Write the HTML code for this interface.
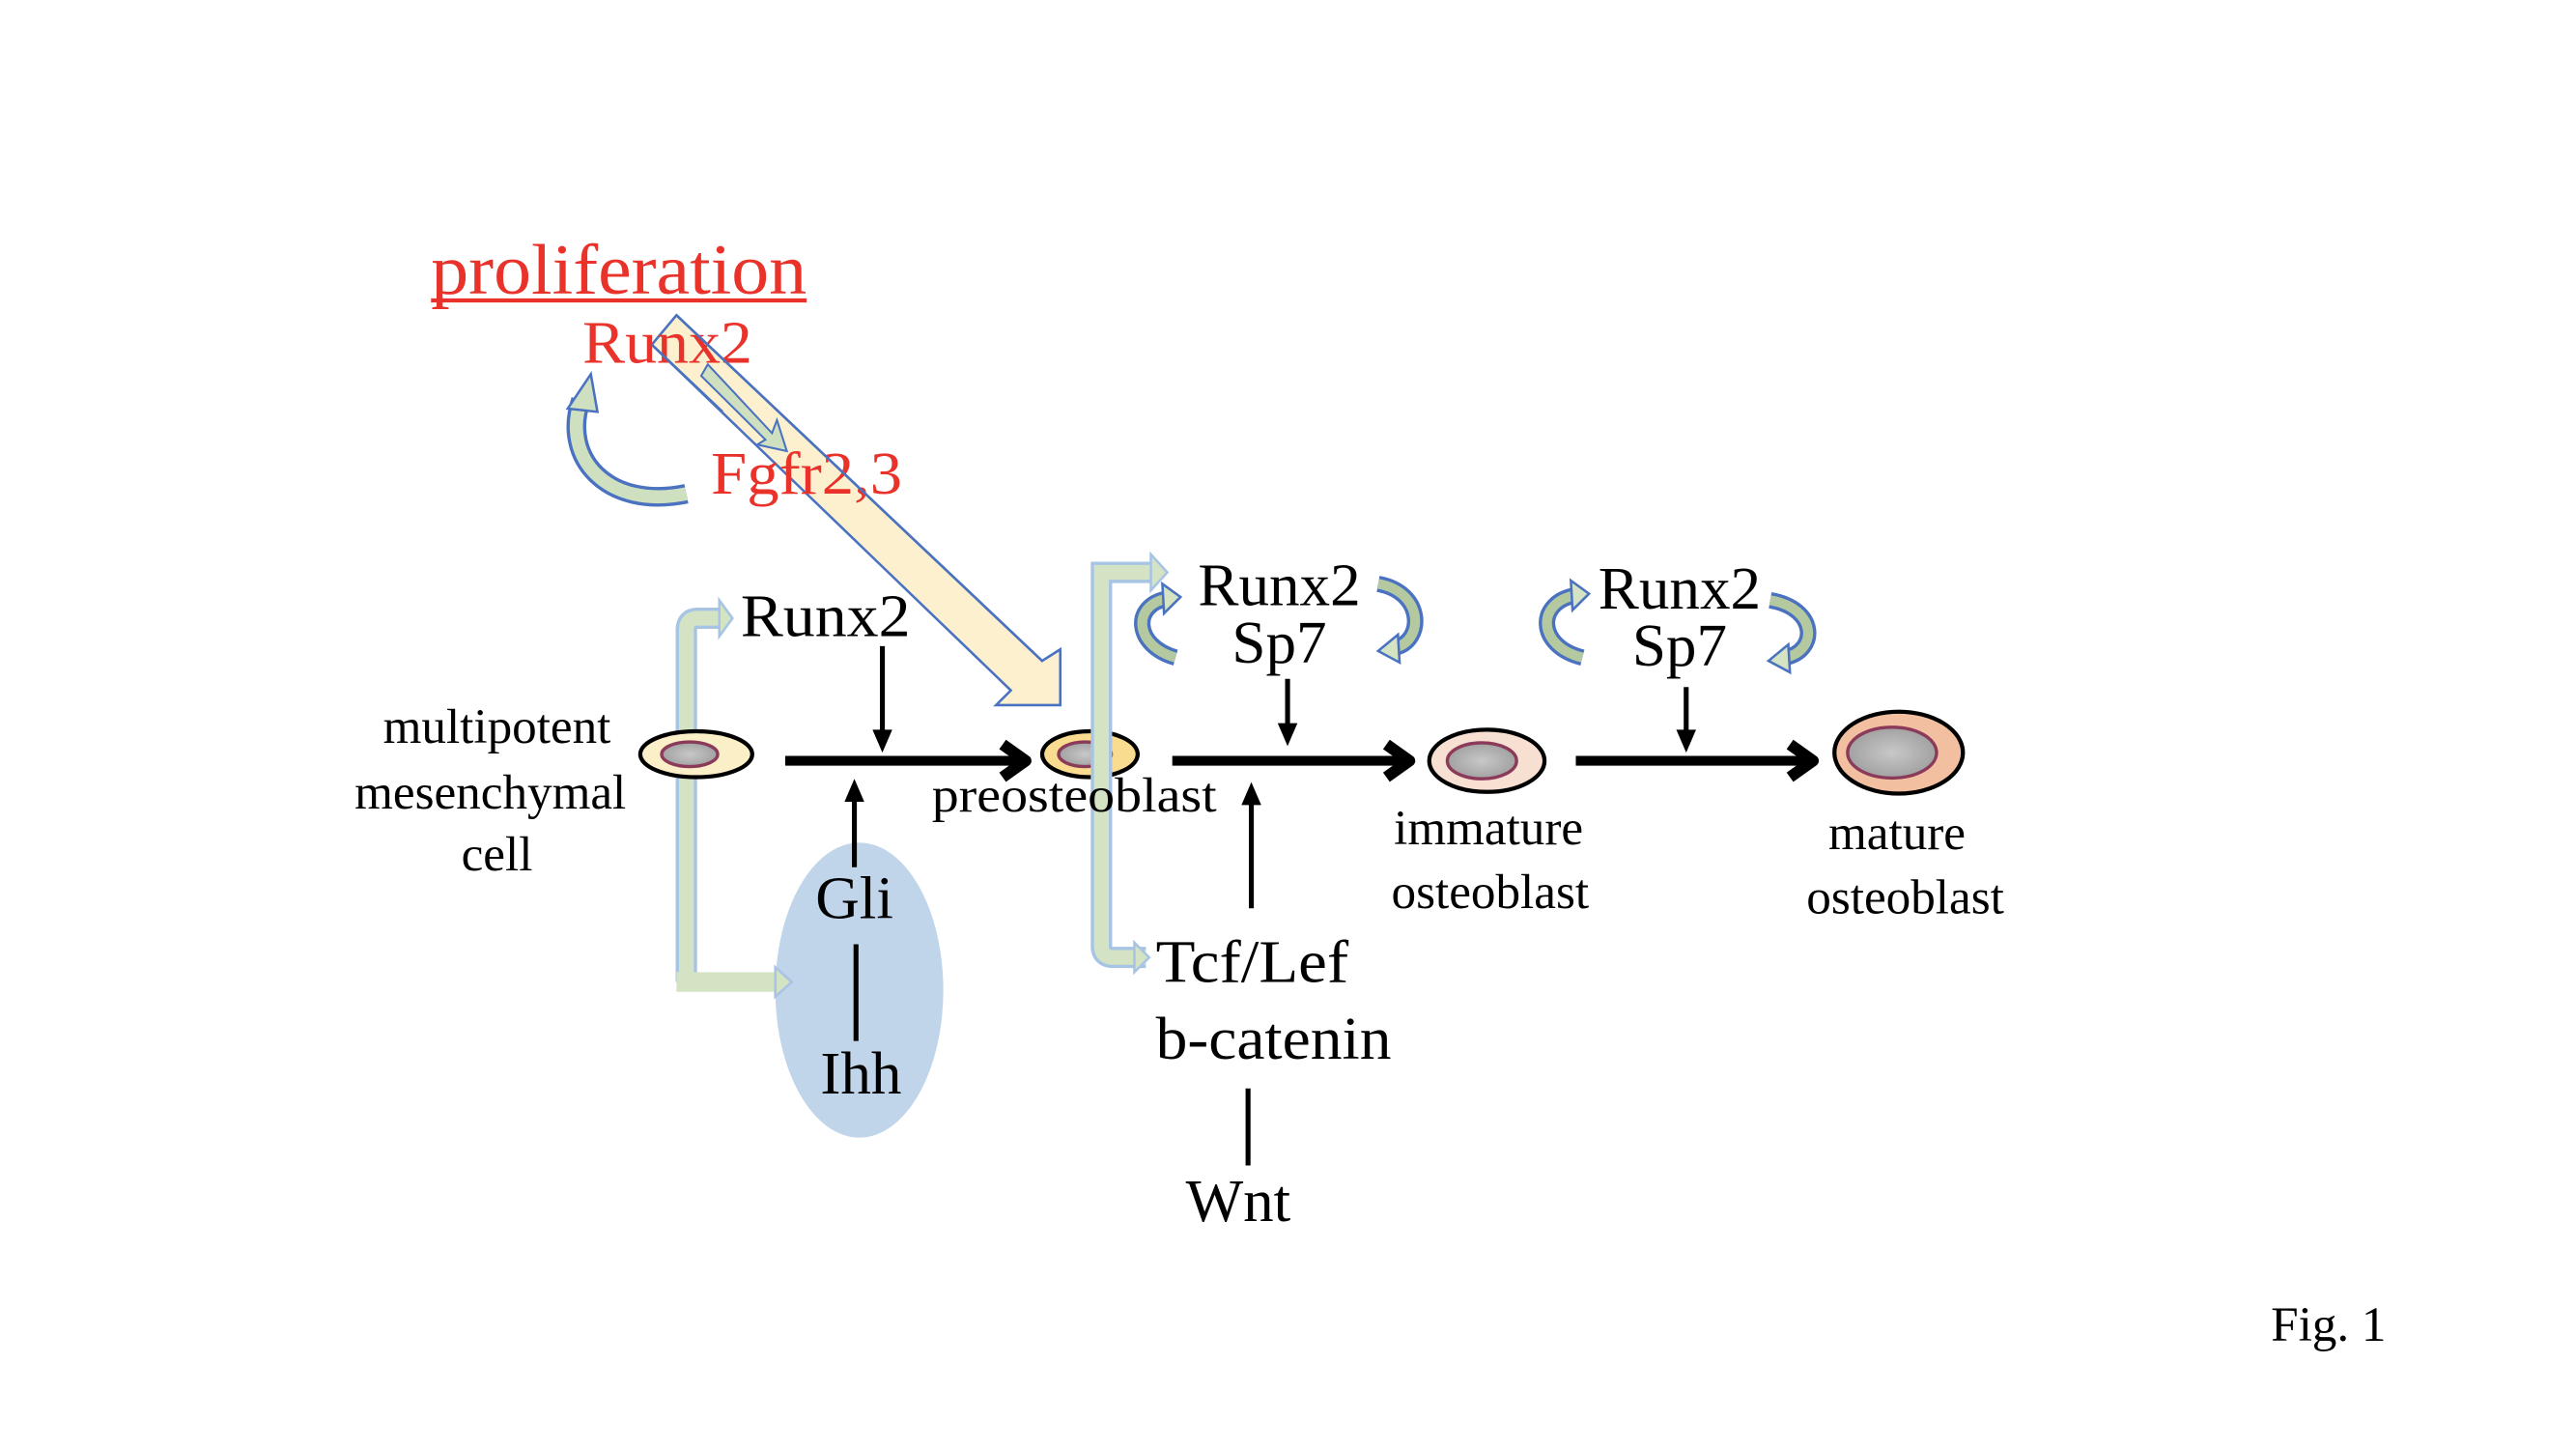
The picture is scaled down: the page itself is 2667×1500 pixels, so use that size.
<!DOCTYPE html>
<html><head><meta charset="utf-8"><style>html,body{margin:0;padding:0;background:#fff}svg{display:block}</style></head>
<body>
<svg width="2667" height="1500" viewBox="0 0 1560 877.4" xmlns="http://www.w3.org/2000/svg" font-family="'Liberation Serif', serif">
<defs>
<radialGradient id="g" cx="50%" cy="50%" r="60%"><stop offset="0" stop-color="#c8c8c8"/><stop offset="1" stop-color="#9a9a9a"/></radialGradient>
</defs>
<rect width="1560" height="877.4" fill="#fff"/>
<g transform="translate(-1.3,-0.6) scale(0.9975,0.992)">

<!-- curved green arrow left -->
<path d="M354,245 C342,280 370,312 418,302" fill="none" stroke="#4a72c0" stroke-width="12"/>
<path d="M354,245 C342,280 370,312 418,302" fill="none" stroke="#cfe0c0" stroke-width="8"/>
<polygon points="346,250 360,229 364,252" fill="#cfe0c0" stroke="#4a72c0" stroke-width="1.5"/>

<!-- big yellow arrow -->
<polygon points="412,193 634,404 645,397 645,431 606,431 615,422 397,211" fill="#fdf0cf" stroke="#4a72c0" stroke-width="1.5" stroke-linejoin="miter"/>
<!-- small green arrow -->
<polygon points="431,223 470,265 473,257 479,276 461,272 466,269 427,230" fill="#cfe0c0" stroke="#4a72c0" stroke-width="1.2"/>

<!-- red texts -->
<text x="263" y="180" font-size="44" fill="#e8322a" textLength="228" lengthAdjust="spacingAndGlyphs">proliferation</text>
<line x1="263" y1="184" x2="491" y2="184" stroke="#e8322a" stroke-width="2.5"/>
<text x="355" y="222" font-size="37" fill="#e8322a" textLength="103" lengthAdjust="spacingAndGlyphs">Runx2</text>
<text x="433" y="302" font-size="37" fill="#e8322a" textLength="116" lengthAdjust="spacingAndGlyphs">Fgfr2,3</text>
<path d="M412,193 L634,404 M397,211 L440,252" stroke="#4a72c0" stroke-width="1.5" fill="none"/>

<!-- Gli/Ihh ellipse -->
<ellipse cx="523" cy="605" rx="51" ry="90" fill="#c0d4ea"/>

<!-- left bracket -->
<path d="M418,600 L418,385 Q418,378 425,378 L440,378" fill="none" stroke="#a8c4e4" stroke-width="13"/>
<path d="M418,600 L418,385 Q418,378 425,378 L440,378" fill="none" stroke="#d4e3c4" stroke-width="9"/>
<polygon points="438,367 446,378 438,389" fill="#d4e3c4" stroke="#a8c4e4" stroke-width="1.5"/>
<path d="M412,600 L475,600" stroke="#d4e3c4" stroke-width="12"/>
<polygon points="472,591 482,600 472,609" fill="#d4e3c4" stroke="#a8c4e4" stroke-width="1.5"/>

<text x="520" y="561" font-size="37" text-anchor="middle">Gli</text>
<text x="524" y="668" font-size="37" text-anchor="middle">Ihh</text>
<line x1="521" y1="577" x2="521" y2="636" stroke="#000" stroke-width="3"/>
<line x1="520" y1="530" x2="520" y2="488" stroke="#000" stroke-width="3"/>
<polygon points="514,490 520,476 526,490" fill="#000"/>

<!-- black Runx2 -->
<text x="451" y="389" font-size="37" textLength="103" lengthAdjust="spacingAndGlyphs">Runx2</text>
<line x1="537" y1="395" x2="537" y2="448" stroke="#000" stroke-width="3"/>
<polygon points="531,446 537,460 543,446" fill="#000"/>

<!-- cells -->
<ellipse cx="424" cy="461" rx="34" ry="14" fill="#fbefc8" stroke="#000" stroke-width="2.5"/>
<ellipse cx="420" cy="461" rx="17" ry="7.5" fill="url(#g)" stroke="#8b3a5a" stroke-width="2"/>
<ellipse cx="663" cy="461" rx="29" ry="14" fill="#f9dc90" stroke="#000" stroke-width="2.5"/>
<ellipse cx="660" cy="461" rx="16" ry="7.5" fill="url(#g)" stroke="#8b3a5a" stroke-width="2"/>
<ellipse cx="904" cy="465" rx="35" ry="19" fill="#f7e0d2" stroke="#000" stroke-width="2.5"/>
<ellipse cx="901" cy="465" rx="21" ry="11" fill="url(#g)" stroke="#8b3a5a" stroke-width="2"/>
<ellipse cx="1154" cy="460" rx="39" ry="25" fill="#f2c0a0" stroke="#000" stroke-width="2.5"/>
<ellipse cx="1150" cy="460" rx="27" ry="15.5" fill="url(#g)" stroke="#8b3a5a" stroke-width="2"/>

<!-- right bracket (over cell) -->
<path d="M697,585 L677,585 Q670,585 670,578 L670,350 L700,350" fill="none" stroke="#a8c4e4" stroke-width="13"/>
<path d="M697,585 L677,585 Q670,585 670,578 L670,350 L700,350" fill="none" stroke="#d4e3c4" stroke-width="9"/>
<polygon points="700,339 710,350 700,361" fill="#d4e3c4" stroke="#a8c4e4" stroke-width="1.5"/>
<polygon points="690,576 699,585 690,594" fill="#d4e3c4" stroke="#a8c4e4" stroke-width="1.5"/>

<!-- main arrows -->
<g stroke="#000" stroke-width="6" fill="none" stroke-linecap="butt">
<line x1="478" y1="465" x2="622" y2="465"/>
<polyline points="610,455 624,465 610,475" stroke-width="7" stroke-linejoin="round"/>
<line x1="713" y1="465" x2="855" y2="465"/>
<polyline points="843,455 857,465 843,475" stroke-width="7" stroke-linejoin="round"/>
<line x1="958" y1="465" x2="1100" y2="465"/>
<polyline points="1088,455 1102,465 1088,475" stroke-width="7" stroke-linejoin="round"/>
</g>

<!-- cell labels -->
<g font-size="30" text-anchor="middle">
<text x="303" y="454">multipotent</text>
<text x="299" y="494">mesenchymal</text>
<text x="303" y="532">cell</text>
<text x="905" y="516">immature</text>
<text x="906" y="555">osteoblast</text>
<text x="1153" y="519">mature</text>
<text x="1158" y="558">osteoblast</text>
</g>
<text x="567" y="496" font-size="30" textLength="173" lengthAdjust="spacingAndGlyphs">preosteoblast</text>

<!-- Runx2/Sp7 group 1 -->
<text x="778" y="370" font-size="37" text-anchor="middle">Runx2</text>
<text x="778" y="405" font-size="37" text-anchor="middle">Sp7</text>
<line x1="783" y1="415" x2="783" y2="444" stroke="#000" stroke-width="3"/>
<polygon points="777,442 783,456 789,442" fill="#000"/>
<!-- Runx2/Sp7 group 2 -->
<text x="1021" y="372" font-size="37" text-anchor="middle">Runx2</text>
<text x="1021" y="407" font-size="37" text-anchor="middle">Sp7</text>
<line x1="1025" y1="420" x2="1025" y2="448" stroke="#000" stroke-width="3"/>
<polygon points="1019,446 1025,460 1031,446" fill="#000"/>

<!-- small curved arrows -->
<g fill="none">
<path d="M715,402 C690,395 688,370 710,366" stroke="#4a72c0" stroke-width="10"/>
<path d="M715,402 C690,395 688,370 710,366" stroke="#b5c9a0" stroke-width="6"/>
<path d="M838,357 C866,362 866,392 848,396" stroke="#4a72c0" stroke-width="10"/>
<path d="M838,357 C866,362 866,392 848,396" stroke="#b5c9a0" stroke-width="6"/>
<path d="M962,402 C934,395 934,368 958,364" stroke="#4a72c0" stroke-width="10"/>
<path d="M962,402 C934,395 934,368 958,364" stroke="#b5c9a0" stroke-width="6"/>
<path d="M1076,367 C1105,372 1105,398 1085,402" stroke="#4a72c0" stroke-width="10"/>
<path d="M1076,367 C1105,372 1105,398 1085,402" stroke="#b5c9a0" stroke-width="6"/>
</g>
<g fill="#d4e3c4" stroke="#4a72c0" stroke-width="1.5">
<polygon points="707,357 718,365 708,375"/>
<polygon points="850,388 838,398 851,405"/>
<polygon points="955,355 966,363 956,373"/>
<polygon points="1087,394 1075,404 1088,411"/>
</g>

<!-- Tcf/Lef etc -->
<line x1="761" y1="555" x2="761" y2="490" stroke="#000" stroke-width="3"/>
<polygon points="755,492 761,478 767,492" fill="#000"/>
<text x="703" y="600" font-size="37" textLength="117" lengthAdjust="spacingAndGlyphs">Tcf/Lef</text>
<text x="703" y="647" font-size="37" textLength="143" lengthAdjust="spacingAndGlyphs">b-catenin</text>
<line x1="759" y1="665" x2="759" y2="712" stroke="#000" stroke-width="3"/>
<text x="753" y="746" font-size="37" text-anchor="middle">Wnt</text>

<text x="1380" y="819" font-size="30">Fig. 1</text>
</g>
</svg>
</body></html>
